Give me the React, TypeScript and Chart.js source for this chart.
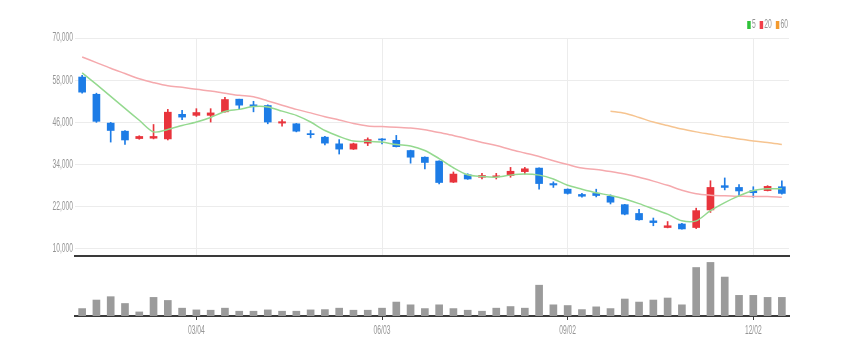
import { useEffect, useRef } from 'react';
import { Chart, registerables } from 'chart.js';

Chart.register(...registerables);

const dates = [
  '01/08', '01/15', '01/22', '01/29', '02/05', '02/12', '02/19', '02/26', '03/04', '03/11',
  '03/18', '03/25', '04/01', '04/08', '04/15', '04/22', '04/29', '05/06', '05/13', '05/20',
  '05/27', '06/03', '06/10', '06/17', '06/24', '07/01', '07/08', '07/15', '07/22', '07/29',
  '08/05', '08/12', '08/19', '08/26', '09/02', '09/09', '09/16', '09/23', '09/30', '10/07',
  '10/14', '10/21', '10/28', '11/04', '11/11', '11/18', '11/25', '12/02', '12/09', '12/16',
];
const tickLabels = ['03/04', '06/03', '09/02', '12/02'];
const priceTicks = [10000, 22000, 34000, 46000, 58000, 70000];
const legendNames = ['5', '20', '60'];

const opens = [
  58900, 54000, 45800, 43500, 41400, 41500, 41300, 48300, 48000, 48000,
  49000, 52600, 51000, 50800, 45800, 45600, 42800, 41800, 39900, 38400,
  40100, 41300, 40900, 38000, 36100, 35000, 29000, 31100, 30400, 30500,
  30900, 32000, 33000, 28600, 27000, 25500, 25800, 25000, 22600, 20100,
  18000, 16100, 17100, 16100, 21100, 28000, 27500, 26600, 26600, 27700,
];
const highs = [
  59400, 54300, 46000, 43700, 42200, 45400, 49700, 49400, 49900, 49900,
  53100, 52600, 52000, 51000, 46800, 45700, 43700, 42000, 41100, 40100,
  41600, 41400, 42300, 38100, 36200, 35100, 31900, 31400, 31500, 31500,
  33200, 33200, 33100, 29100, 27100, 25800, 27000, 25400, 22700, 21300,
  18800, 17800, 17300, 21600, 29400, 30200, 28300, 27700, 28000, 29400,
];
const lows = [
  54300, 46000, 40400, 39700, 41200, 41300, 41000, 46800, 47700, 46100,
  48900, 49900, 49000, 45600, 44900, 43300, 41600, 39600, 37000, 38300,
  39400, 39900, 39000, 34400, 32800, 28500, 28900, 29800, 29900, 29900,
  30400, 31300, 27000, 27500, 25600, 24700, 24800, 22800, 19700, 18200,
  16600, 16000, 15600, 15800, 20400, 26800, 25100, 24700, 26500, 25600,
];
const closes = [
  54600, 46300, 43700, 41000, 42000, 42000, 48900, 47500, 48800, 48700,
  52500, 50900, 50500, 46100, 46200, 43500, 42500, 40100, 38400, 39900,
  41100, 41000, 39100, 36100, 34600, 28900, 31300, 29900, 30900, 30800,
  32100, 32800, 28600, 28200, 25800, 25000, 25200, 23300, 19900, 18300,
  17500, 16600, 15700, 20900, 27500, 27500, 26500, 26000, 27800, 25800,
];
const volumes = [
  146, 314, 380, 246, 80, 366, 306, 154, 120, 114,
  154, 94, 94, 120, 94, 94, 120, 126, 154, 114,
  114, 154, 274, 220, 146, 220, 146, 114, 94, 154,
  186, 154, 606, 220, 206, 126, 180, 146, 334, 274,
  314, 354, 220, 954, 1054, 766, 406, 406, 366, 366,
];
const ma5 = [
  60100, 56800, 53400, 50000, 46600, 43300, 44000, 45100, 46100, 47400,
  49100, 49700, 50500, 50400, 49200, 48000, 46100, 43700, 42000, 40700,
  40600, 40400, 39700, 39300, 38000, 35700, 33100, 31100, 30600, 30400,
  31000, 31300, 31000, 29900, 28100, 27000, 26000, 25200, 24200, 22900,
  21400, 19900, 18000, 18000, 20900, 23200, 25100, 26600, 27100, 27100,
];
const ma20 = [
  64600, 63000, 61400, 59900, 58400, 57300, 56400, 56000, 55400, 54900,
  54300, 53700, 53300, 52100, 50900, 49700, 48700, 47600, 46700, 45700,
  45000, 44800, 44600, 44400, 43900, 43100, 42300, 41300, 40300, 39400,
  38300, 37300, 36300, 35100, 34000, 33000, 32600, 32000, 31300, 30400,
  29300, 28100, 26700, 25700, 25300, 25100, 25000, 24900, 24900, 24700,
];
const ma60 = [
  null, null, null, null, null, null, null, null, null, null,
  null, null, null, null, null, null, null, null, null, null,
  null, null, null, null, null, null, null, null, null, null,
  null, null, null, null, null, null, null, 49200, 48600, 47400,
  46100, 45100, 44100, 43300, 42600, 41900, 41300, 40700, 40300, 39700,
];

const UP = '#e8343c';
const DOWN = '#1d7ce6';
const FONT = "12px 'Liberation Sans', Arial, sans-serif";
const SQUISH = 0.56;
const TEXT = '#959595';
const GRID = '#ececec';
const HIDDEN = 'rgba(0,0,0,0)';

// draws a text horizontally condensed, like the narrow labels of the reference
function drawNarrow(ctx: CanvasRenderingContext2D, text: string, x: number, y: number, align: CanvasTextAlign) {
  ctx.save();
  ctx.translate(x, y);
  ctx.scale(SQUISH, 1);
  ctx.textAlign = align;
  ctx.fillText(text, 0, 0);
  ctx.restore();
}

const priceLabelsPlugin = {
  id: 'priceLabels',
  afterDraw(chart: any) {
    const ctx = chart.ctx as CanvasRenderingContext2D;
    const scale = chart.scales.y;
    ctx.save();
    ctx.font = FONT;
    ctx.fillStyle = TEXT;
    ctx.textBaseline = 'middle';
    scale.ticks.forEach((t: any) => {
      drawNarrow(ctx, Number(t.value).toLocaleString('en-US'), scale.right - 2, scale.getPixelForValue(t.value), 'right');
    });
    // legend (top right)
    const items = chart.data.datasets.filter((d: any) => legendNames.includes(d.label));
    let x = chart.chartArea.right - 1;
    const cy = chart.chartArea.top - 13;
    for (let i = items.length - 1; i >= 0; i--) {
      const it = items[i];
      const w = ctx.measureText(it.label).width * SQUISH;
      ctx.fillStyle = TEXT;
      drawNarrow(ctx, it.label, x, cy, 'right');
      x -= w + 1.2;
      ctx.fillStyle = it.backgroundColor;
      ctx.fillRect(x - 3.5, cy - 4, 3.5, 8);
      x -= 3.5 + 4;
    }
    ctx.restore();
  },
};

const dateLabelsPlugin = {
  id: 'dateLabels',
  afterDraw(chart: any) {
    const ctx = chart.ctx as CanvasRenderingContext2D;
    const scale = chart.scales.x;
    ctx.save();
    ctx.font = FONT;
    ctx.fillStyle = TEXT;
    ctx.textBaseline = 'middle';
    dates.forEach((d, i) => {
      if (tickLabels.includes(d)) drawNarrow(ctx, d, scale.getPixelForTick(i), chart.chartArea.bottom + 15, 'center');
    });
    ctx.restore();
  },
};

export default function App() {
  const priceRef = useRef<HTMLCanvasElement>(null);
  const volRef = useRef<HTMLCanvasElement>(null);

  useEffect(() => {
    const candleColors = opens.map((o, i) => (closes[i] >= o ? UP : DOWN));
    const isLabeled = (i: number) => tickLabels.includes(dates[i]);

    const price = new Chart(priceRef.current!, {
      type: 'bar',
      data: {
        labels: dates,
        datasets: [
          { type: 'line', label: '5', data: ma5, borderColor: '#94d98f', backgroundColor: '#2fc23a', borderWidth: 1.5, pointRadius: 0, tension: 0.3, order: 0 } as any,
          { type: 'line', label: '20', data: ma20, borderColor: '#f5a9ad', backgroundColor: '#f2404a', borderWidth: 1.5, pointRadius: 0, tension: 0.3, order: 0 } as any,
          { type: 'line', label: '60', data: ma60, borderColor: '#f6c490', backgroundColor: '#f39a2e', borderWidth: 1.5, pointRadius: 0, tension: 0.3, order: 0 } as any,
          { label: 'body', data: opens.map((o, i) => [o, closes[i]]), backgroundColor: candleColors, barThickness: 7, grouped: false, order: 1 } as any,
          { label: 'wick', data: lows.map((l, i) => [l, highs[i]]), backgroundColor: candleColors, barThickness: 1, grouped: false, order: 2 } as any,
        ],
      },
      options: {
        responsive: false,
        animation: false,
        layout: { padding: { top: 38, right: 53, bottom: 3, left: 0 } },
        plugins: { tooltip: { enabled: false }, legend: { display: false } },
        scales: {
          x: {
            offset: true,
            grid: {
              offset: false,
              drawTicks: false,
              color: (ctx: any) => (isLabeled(ctx.index) ? GRID : HIDDEN),
            },
            border: { color: '#3a3a3a', width: 2 },
            ticks: { display: false },
          },
          y: {
            min: 8000,
            max: 70000,
            afterBuildTicks: (axis: any) => {
              axis.ticks = priceTicks.map((v) => ({ value: v }));
            },
            afterFit: (axis: any) => {
              axis.width = 75;
            },
            grid: { color: GRID, drawTicks: false },
            border: { display: false },
            ticks: { color: HIDDEN, font: { size: 10 } },
          },
        },
      } as any,
      plugins: [priceLabelsPlugin],
    });

    const vol = new Chart(volRef.current!, {
      type: 'bar',
      data: {
        labels: dates,
        datasets: [{ label: 'volume', data: volumes, backgroundColor: '#9b9b9b', barThickness: 7 }],
      },
      options: {
        responsive: false,
        animation: false,
        layout: { padding: { top: 0, right: 53, bottom: 14, left: 75 } },
        plugins: { legend: { display: false }, tooltip: { enabled: false } },
        scales: {
          x: {
            grid: {
              offset: false,
              drawOnChartArea: false,
              drawTicks: true,
              tickLength: 4,
              color: (ctx: any) => (isLabeled(ctx.index) ? '#3a3a3a' : HIDDEN),
            },
            border: { color: '#3a3a3a', width: 2 },
            ticks: {
              autoSkip: false,
              maxRotation: 0,
              padding: 4,
              color: HIDDEN,
              font: { size: 10 },
              callback: (_v: any, i: number) => (isLabeled(i) ? dates[i] : ''),
            },
          },
          y: { display: false, min: 0, max: 1200 },
        },
      } as any,
      plugins: [dateLabelsPlugin],
    });

    return () => {
      price.destroy();
      vol.destroy();
    };
  }, []);

  return (
    <div style={{ position: 'absolute', left: 0, top: 0, width: 842, height: 354, background: '#fff' }}>
      <canvas ref={priceRef} width={842} height={265} style={{ position: 'absolute', left: 0, top: 0 }} />
      <canvas ref={volRef} width={842} height={99} style={{ position: 'absolute', left: 0, top: 255 }} />
    </div>
  );
}
